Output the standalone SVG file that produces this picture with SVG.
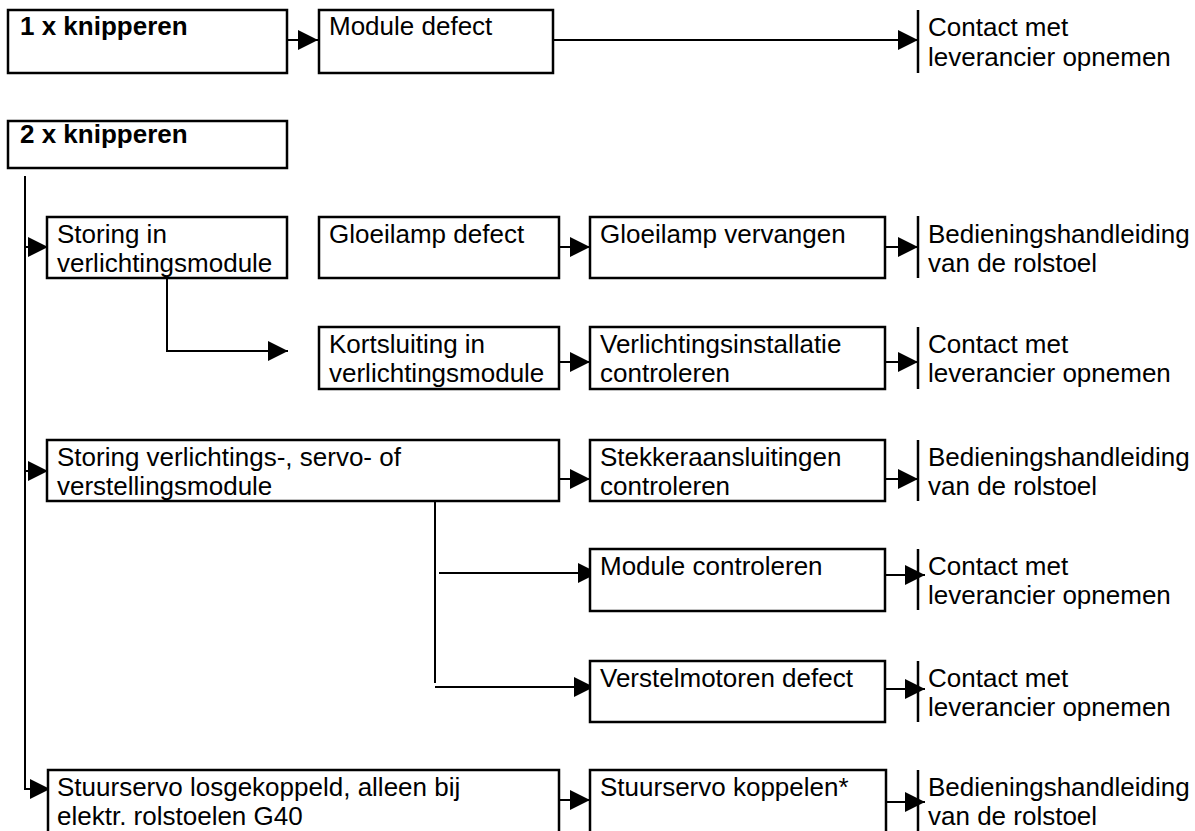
<svg xmlns="http://www.w3.org/2000/svg" width="1195" height="831" viewBox="0 0 1195 831">
<defs>
<marker id="ah" markerUnits="userSpaceOnUse" markerWidth="20" markerHeight="20" refX="20" refY="10" orient="auto">
<path d="M0,0 L20,10 L0,20 z" fill="#000"/>
</marker>
<style>
.box{fill:#fff;stroke:#000;stroke-width:2.5}
.t{font-family:"Liberation Sans",Arial,sans-serif;font-size:26px;fill:#000}
.b{font-weight:bold}
.c{fill:none;stroke:#000;stroke-width:2}
.a{fill:none;stroke:#000;stroke-width:2;marker-end:url(#ah)}
.bar{stroke:#000;stroke-width:2.5}
</style>
</defs>
<rect width="1195" height="831" fill="#fff"/>
<g id="connectors">
<line class="a" x1="278" y1="40" x2="318" y2="40"/>
<line class="a" x1="553" y1="40" x2="918" y2="40"/>
<line class="c" x1="25" y1="176" x2="25" y2="783"/>
<line class="a" x1="25" y1="247" x2="48" y2="247"/>
<line class="a" x1="559" y1="247" x2="590" y2="247"/>
<line class="a" x1="885" y1="247" x2="918" y2="247"/>
<polyline class="a" points="167,278 167,351 288,351"/>
<line class="a" x1="559" y1="362" x2="590" y2="362"/>
<line class="a" x1="885" y1="362" x2="918" y2="362"/>
<line class="a" x1="25" y1="471" x2="48" y2="471"/>
<line class="a" x1="559" y1="479" x2="590" y2="479"/>
<line class="a" x1="885" y1="479" x2="918" y2="479"/>
<line class="c" x1="435" y1="501" x2="435" y2="683"/>
<line class="a" x1="439" y1="573" x2="598" y2="573"/>
<line class="a" x1="435" y1="687" x2="594" y2="687"/>
<line class="a" x1="885" y1="575" x2="925" y2="575"/>
<line class="a" x1="885" y1="689" x2="925" y2="689"/>
<polyline class="a" points="25,783 25,789 50,789"/>
<line class="a" x1="559" y1="800" x2="590" y2="800"/>
<line class="a" x1="886" y1="802" x2="925" y2="802"/>
</g>
<g id="n1"><rect class="box" x="8" y="10" width="279" height="63"/><text class="t b" x="20" y="35">1 x knipperen</text></g>
<g id="n2"><rect class="box" x="319" y="10" width="234" height="63"/><text class="t" x="329" y="35">Module defect</text></g>
<g id="n3"><line class="bar" x1="918" y1="10" x2="918" y2="73"/><text class="t" x="928" y="36">Contact met</text><text class="t" x="928" y="66">leverancier opnemen</text></g>
<g id="n4"><rect class="box" x="8" y="121" width="279" height="47"/><text class="t b" x="20" y="143">2 x knipperen</text></g>
<g id="n5"><rect class="box" x="47" y="217" width="240" height="61"/><text class="t" x="57" y="243">Storing in</text><text class="t" x="57" y="272">verlichtingsmodule</text></g>
<g id="n6"><rect class="box" x="319" y="217" width="240" height="61"/><text class="t" x="329" y="243">Gloeilamp defect</text></g>
<g id="n7"><rect class="box" x="590" y="217" width="295" height="61"/><text class="t" x="600" y="243">Gloeilamp vervangen</text></g>
<g id="n8"><line class="bar" x1="918" y1="216" x2="918" y2="278"/><text class="t" x="928" y="243">Bedieningshandleiding</text><text class="t" x="928" y="272">van de rolstoel</text></g>
<g id="n9"><rect class="box" x="319" y="327" width="240" height="62"/><text class="t" x="329" y="353">Kortsluiting in</text><text class="t" x="329" y="382">verlichtingsmodule</text></g>
<g id="n10"><rect class="box" x="590" y="327" width="295" height="62"/><text class="t" x="600" y="353">Verlichtingsinstallatie</text><text class="t" x="600" y="382">controleren</text></g>
<g id="n11"><line class="bar" x1="918" y1="327" x2="918" y2="389"/><text class="t" x="928" y="353">Contact met</text><text class="t" x="928" y="382">leverancier opnemen</text></g>
<g id="n12"><rect class="box" x="47" y="440" width="512" height="61"/><text class="t" x="57" y="466">Storing verlichtings-, servo- of</text><text class="t" x="57" y="495">verstellingsmodule</text></g>
<g id="n13"><rect class="box" x="590" y="440" width="295" height="61"/><text class="t" x="600" y="466">Stekkeraansluitingen</text><text class="t" x="600" y="495">controleren</text></g>
<g id="n14"><line class="bar" x1="918" y1="440" x2="918" y2="501"/><text class="t" x="928" y="466">Bedieningshandleiding</text><text class="t" x="928" y="495">van de rolstoel</text></g>
<g id="n15"><rect class="box" x="590" y="549" width="295" height="62"/><text class="t" x="600" y="575">Module controleren</text></g>
<g id="n16"><line class="bar" x1="918" y1="549" x2="918" y2="610"/><text class="t" x="928" y="575">Contact met</text><text class="t" x="928" y="604">leverancier opnemen</text></g>
<g id="n17"><rect class="box" x="590" y="661" width="295" height="61"/><text class="t" x="600" y="687">Verstelmotoren defect</text></g>
<g id="n18"><line class="bar" x1="918" y1="661" x2="918" y2="722"/><text class="t" x="928" y="687">Contact met</text><text class="t" x="928" y="716">leverancier opnemen</text></g>
<g id="n19"><rect class="box" x="48" y="770" width="511" height="63"/><text class="t" x="57" y="796">Stuurservo losgekoppeld, alleen bij</text><text class="t" x="57" y="825">elektr. rolstoelen G40</text></g>
<g id="n20"><rect class="box" x="590" y="770" width="296" height="63"/><text class="t" x="600" y="796">Stuurservo koppelen*</text></g>
<g id="n21"><line class="bar" x1="918" y1="770" x2="918" y2="831"/><text class="t" x="928" y="796">Bedieningshandleiding</text><text class="t" x="928" y="825">van de rolstoel</text></g>
</svg>
